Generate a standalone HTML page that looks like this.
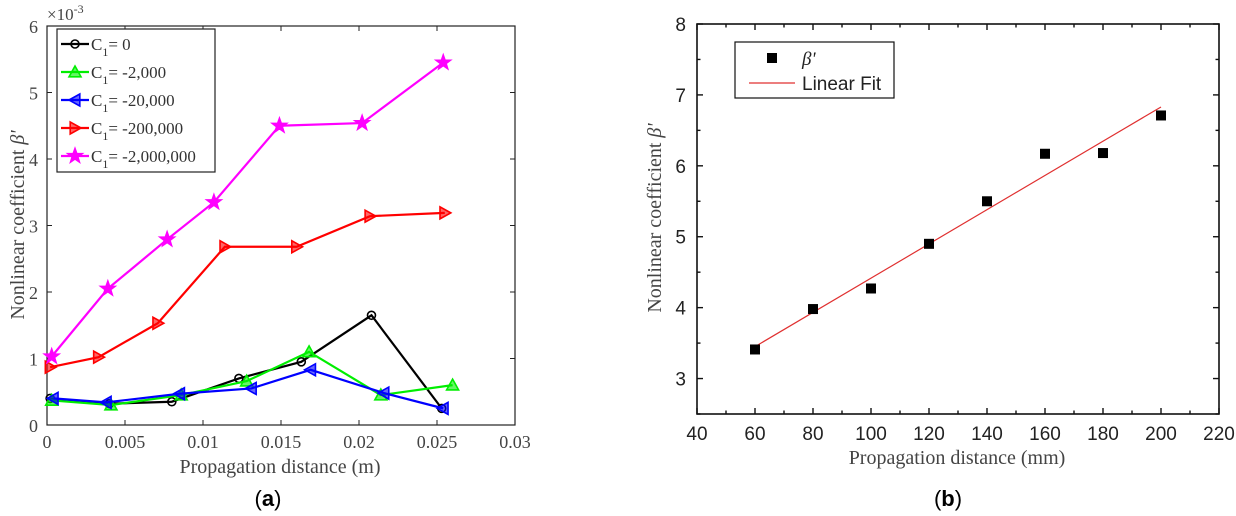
<!DOCTYPE html>
<html><head><meta charset="utf-8"><style>
body{margin:0;background:#fff;}
svg{display:block;}
.serif{font-family:"Liberation Serif",serif;}
.sans{font-family:"Liberation Sans",sans-serif;}
</style></head><body>
<svg id="fig" width="1236" height="516" viewBox="0 0 1236 516"></svg>
<script>
// Chart (a) data
const aXTicks=[0,0.005,0.01,0.015,0.02,0.025,0.03];
const aXTickLabels=["0","0.005","0.01","0.015","0.02","0.025","0.03"];
const aYTicks=[0,1,2,3,4,5,6];
const aSeriesNames=["C1= 0","C1= -2,000","C1= -20,000","C1= -200,000","C1= -2,000,000"];
const aX0=[0.0002,0.004,0.008,0.0123,0.0163,0.0208,0.0253];
const aY0=[0.40,0.32,0.35,0.70,0.95,1.65,0.25];
const aX1=[0.0003,0.0041,0.0086,0.0128,0.0168,0.0214,0.0260];
const aY1=[0.37,0.30,0.45,0.66,1.10,0.45,0.60];
const aX2=[0.0004,0.0038,0.0085,0.0131,0.0169,0.0216,0.0254];
const aY2=[0.40,0.34,0.47,0.55,0.83,0.48,0.25];
const aX3=[0.0002,0.0033,0.0071,0.0114,0.0160,0.0207,0.0255];
const aY3=[0.87,1.02,1.53,2.68,2.68,3.14,3.19];
const aX4=[0.0003,0.0039,0.0077,0.0107,0.0149,0.0202,0.0254];
const aY4=[1.03,2.05,2.79,3.35,4.50,4.54,5.45];
// Chart (b) data
const bXTicks=[40,60,80,100,120,140,160,180,200,220];
const bYTicks=[3,4,5,6,7,8];
const bX=[60,80,100,120,140,160,180,200];
const bY=[3.41,3.98,4.27,4.90,5.50,6.17,6.18,6.71];
const bFitX=[60,200];
const bFitY=[3.45,6.83];

const NS="http://www.w3.org/2000/svg";
const svg=document.getElementById('fig');
function mk(tag,attrs,parent,text){const e=document.createElementNS(NS,tag);for(const k in attrs)e.setAttribute(k,attrs[k]);if(text!==undefined)e.textContent=text;(parent||svg).appendChild(e);return e;}

// ---- Chart A ----
const A={l:47,r:515,t:26,b:425};
const ax=v=>A.l+(v-0)/0.03*(A.r-A.l);
const ay=v=>A.b-(v/6)*(A.b-A.t);
const ga=mk('g',{});


const fa=mk('rect',{x:A.l,y:A.t,width:A.r-A.l,height:A.b-A.t,fill:'none',stroke:'#222','stroke-width':1.2},ga);


aXTicks.forEach((v,i)=>{const x=ax(v);
 mk('line',{x1:x,y1:A.b,x2:x,y2:A.b-5,stroke:'#222'},ga);mk('line',{x1:x,y1:A.t,x2:x,y2:A.t+5,stroke:'#222'},ga);
 const t=mk('text',{x:x,y:A.b+23,'text-anchor':'middle','font-size':18,fill:'#444',class:'serif'},ga,aXTickLabels[i]);
 
 });
aYTicks.forEach(v=>{const y=ay(v);
 mk('line',{x1:A.l,y1:y,x2:A.l+5,y2:y,stroke:'#222'},ga);mk('line',{x1:A.r,y1:y,x2:A.r-5,y2:y,stroke:'#222'},ga);
 const t=mk('text',{x:A.l-9,y:y+7,'text-anchor':'end','font-size':18,fill:'#444',class:'serif'},ga,String(v));
 
 });
const ex=mk('text',{x:47,y:20,'font-size':17,fill:'#444',class:'serif'},ga);
ex.innerHTML='×10<tspan dy="-7" font-size="12">-3</tspan>';


const xta=mk('text',{x:280,y:473,'text-anchor':'middle','font-size':20,fill:'#444',class:'serif'},ga,'Propagation distance (m)');


const yta=mk('text',{x:0,y:0,'text-anchor':'middle','font-size':20,fill:'#444',class:'serif',transform:'translate(24,225) rotate(-90)'},ga);
yta.innerHTML='Nonlinear coefficient  <tspan font-style="italic">β\'</tspan>';



const colors=['#000','#00ee00','#0000ff','#ff0000','#ff00ff'];
const markers=['circle','tri-up','tri-left','tri-right','star'];
function marker(type,x,y,c,g){
 const s=6;
 if(type==='circle')return mk('circle',{cx:x,cy:y,r:4,fill:'none',stroke:c,'stroke-width':1.6},g);
 let pts;
 if(type==='tri-up')pts=[[x,y-s],[x+s,y+s*0.8],[x-s,y+s*0.8]];
 if(type==='tri-left')pts=[[x-s,y],[x+s*0.8,y-s],[x+s*0.8,y+s]];
 if(type==='tri-right')pts=[[x+s,y],[x-s*0.8,y-s],[x-s*0.8,y+s]];
 if(type==='star'){pts=[];for(let k=0;k<10;k++){const r=k%2?3:7.5;const a=-Math.PI/2+k*Math.PI/5;pts.push([x+r*Math.cos(a),y+r*Math.sin(a)]);}}
 return mk('polygon',{points:pts.map(p=>p.join(',')).join(' '),fill:c,'fill-opacity':type==='star'?1:0.6,stroke:c,'stroke-width':1.6},g);
}
const aXs=[aX0,aX1,aX2,aX3,aX4],aYs=[aY0,aY1,aY2,aY3,aY4];
aXs.forEach((xs,si)=>{
 const g=mk('g',{},ga);
 
 
 const pl=mk('polyline',{points:xs.map((v,i)=>ax(v)+','+ay(aYs[si][i])).join(' '),fill:'none',stroke:colors[si],'stroke-width':2.2},g);
 
 
 xs.forEach((v,i)=>{const m=marker(markers[si],ax(v),ay(aYs[si][i]),colors[si],g);
  
  });
});
// legend a
const lg=mk('g',{},ga);


mk('rect',{x:57,y:29,width:158,height:143,fill:'#fff',stroke:'#222','stroke-width':1.2},lg);
aSeriesNames.forEach((n,i)=>{const y=44+i*28;
 const e=mk('g',{},lg);
 
 
 mk('line',{x1:61,y1:y,x2:89,y2:y,stroke:colors[i],'stroke-width':2.2},e);
 marker(markers[i],75,y,colors[i],e);
 const t=mk('text',{x:91,y:y+6,'font-size':17,fill:'#333',class:'serif'},e);
 t.innerHTML='C<tspan dy="6" font-size="12">1</tspan><tspan dy="-6">'+n.slice(2)+'</tspan>';
});
const la=mk('text',{x:268,y:506,'text-anchor':'middle','font-size':22,fill:'#000',class:'sans'});
la.innerHTML='(<tspan font-weight="bold">a</tspan>)';



// ---- Chart B ----
const B={l:697,r:1219,t:24,b:414};
const bx=v=>B.l+(v-40)/180*(B.r-B.l);
const by=v=>B.b-(v-2.5)/5.5*(B.b-B.t);
const gb=mk('g',{});


const fb=mk('rect',{x:B.l,y:B.t,width:B.r-B.l,height:B.b-B.t,fill:'none',stroke:'#111','stroke-width':1.6},gb);


for(let v=40;v<=220;v+=10){const x=bx(v),L=v%20===0?6:3.5;
 mk('line',{x1:x,y1:B.b,x2:x,y2:B.b-L,stroke:'#111','stroke-width':1.4},gb);mk('line',{x1:x,y1:B.t,x2:x,y2:B.t+L,stroke:'#111','stroke-width':1.4},gb);}
bXTicks.forEach(v=>{const t=mk('text',{x:bx(v),y:B.b+26,'text-anchor':'middle','font-size':19,fill:'#222',class:'sans'},gb,String(v));
 
 });
for(let v=2.5;v<=8;v+=0.5){const y=by(v),L=Number.isInteger(v)?6:3.5;
 mk('line',{x1:B.l,y1:y,x2:B.l+L,y2:y,stroke:'#111','stroke-width':1.4},gb);mk('line',{x1:B.r,y1:y,x2:B.r-L,y2:y,stroke:'#111','stroke-width':1.4},gb);}
bYTicks.forEach(v=>{const t=mk('text',{x:B.l-11,y:by(v)+7,'text-anchor':'end','font-size':19,fill:'#222',class:'sans'},gb,String(v));
 
 });
const xtb=mk('text',{x:957,y:464,'text-anchor':'middle','font-size':20,fill:'#444',class:'serif'},gb,'Propagation distance (mm)');


const ytb=mk('text',{x:0,y:0,'text-anchor':'middle','font-size':20,fill:'#444',class:'serif',transform:'translate(661,218) rotate(-90)'},gb);
ytb.innerHTML='Nonlinear coefficient  <tspan font-style="italic">β\'</tspan>';


const fit=mk('line',{x1:bx(bFitX[0]),y1:by(bFitY[0]),x2:bx(bFitX[1]),y2:by(bFitY[1]),stroke:'#e03030','stroke-width':1.2},gb);


bX.forEach((v,i)=>{const r=mk('rect',{x:bx(v)-5,y:by(bY[i])-5,width:10,height:10,fill:'#000'},gb);
 
 });
const lb=mk('g',{},gb);


mk('rect',{x:735,y:42,width:159,height:56,fill:'#fff',stroke:'#111','stroke-width':1.2},lb);
mk('rect',{x:767,y:53,width:10,height:10,fill:'#000'},lb);
mk('text',{x:802,y:65,'font-size':19,'font-style':'italic',fill:'#222',class:'serif'},lb,"β'");
mk('line',{x1:749,y1:83,x2:795,y2:83,stroke:'#e03030','stroke-width':1.2},lb);
mk('text',{x:802,y:90,'font-size':19,fill:'#222',class:'sans'},lb,'Linear Fit');
const lbl=mk('text',{x:948,y:506,'text-anchor':'middle','font-size':22,fill:'#000',class:'sans'});
lbl.innerHTML='(<tspan font-weight="bold">b</tspan>)';


</script>
</body></html>
